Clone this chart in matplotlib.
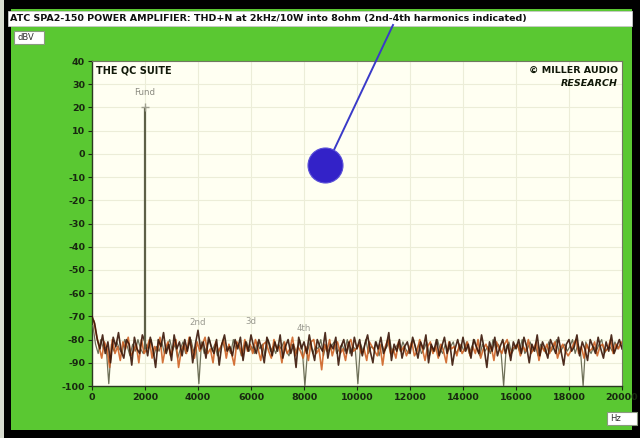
import numpy as np
import matplotlib
matplotlib.use("Agg")
import matplotlib.pyplot as plt
from matplotlib.patches import Rectangle, Ellipse
from matplotlib.lines import Line2D

# ---- data -------------------------------------------------------------
title = "ATC SPA2-150 POWER AMPLIFIER: THD+N at 2kHz/10W into 8ohm (2nd-4th harmonics indicated)"
x_ticks = [0, 2000, 4000, 6000, 8000, 10000, 12000, 14000, 16000, 18000, 20000]
y_ticks = [40, 30, 20, 10, 0, -10, -20, -30, -40, -50, -60, -70, -80, -90, -100]

fund_freq = 2000
fund_level = 20
harmonic_freqs = [4000, 6000, 8000]
harmonic_labels = ["2nd", "3d", "4th"]
harmonic_label_levels = [-74.5, -74.0, -77.0]

# noise floor traces, 100 Hz bins from 0 to 20 kHz (three captures,
# each on its own bin grid)
trace_dark = [
    -70, -73, -80, -84, -78, -86, -81, -90, -79, -83, -77, -85, -88, -80, -82, -91, -79, -84, -86, -78,
    -81, -87, -79, -84, -92, -80, -83, -77, -86, -82, -89, -78, -84, -81, -87, -80, -85, -79, -90, -82,
    -76, -84, -81, -88, -79, -83, -86, -80, -91, -82, -78, -85, -83, -87, -80, -84, -79, -89, -81, -85,
    -78, -83, -86, -80, -84, -90, -79, -82, -87, -81, -85, -78, -88, -83, -80, -86, -82, -92, -79, -84,
    -81, -86, -78, -84, -89, -80, -83, -85, -77, -88, -82, -84, -79, -91, -83, -80, -86, -81, -87, -79,
    -84, -80, -87, -82, -78, -85, -90, -81, -84, -79, -86, -83, -77, -89, -82, -85, -80, -88, -83, -81,
    -86, -79, -83, -88, -81, -84, -78, -90, -82, -85, -80, -87, -83, -79, -86, -81, -91, -84, -80, -85,
    -79, -85, -82, -88, -80, -83, -86, -78, -84, -92, -81, -85, -79, -87, -83, -80, -86, -82, -89, -81,
    -84, -80, -86, -79, -83, -90, -82, -85, -78, -87, -81, -84, -88, -80, -83, -86, -79, -85, -91, -82,
    -80, -85, -83, -78, -87, -81, -84, -89, -80, -83, -86, -79, -84, -88, -81, -85, -78, -86, -83, -80,
    -84,
]
trace_orange = [
    -72, -78, -83, -88, -81, -84, -92, -80, -86, -83, -89, -81, -84, -79, -87, -85, -82, -90, -80, -86,
    -84, -80, -88, -83, -85, -79, -90, -84, -81, -87, -83, -80, -92, -85, -82, -86, -79, -84, -88, -81,
    -85, -82, -79, -86, -84, -90, -81, -85, -83, -80, -88, -82, -86, -91, -81, -83, -87, -80, -85, -82,
    -86, -80, -84, -89, -82, -81, -85, -88, -80, -84, -83, -90, -81, -86, -84, -79, -87, -83, -85, -88,
    -83, -89, -81, -80, -86, -84, -93, -82, -85, -80, -87, -83, -81, -86, -84, -89, -82, -80, -85, -84,
    -82, -86, -84, -89, -81, -83, -85, -87, -82, -91, -83, -80, -86, -84, -88, -81, -85, -83, -87, -84,
    -81, -87, -85, -80, -84, -89, -83, -81, -86, -83, -88, -82, -85, -90, -81, -84, -83, -87, -82, -86,
    -84, -81, -87, -83, -86, -80, -88, -84, -82, -85, -83, -89, -81, -84, -86, -82, -80, -87, -84, -83,
    -82, -87, -83, -85, -80, -86, -84, -81, -89, -83, -85, -82, -86, -83, -81, -88, -84, -82, -85, -87,
    -85, -82, -80, -86, -83, -88, -82, -85, -84, -81, -87, -83, -82, -85, -84, -80, -86, -82, -84, -81,
    -83,
]
trace_grey = [
    -74, -82, -86, -80, -84, -83, -99, -82, -85, -81, -84, -86, -80, -83, -87, -82, -85, -80, -84, -86,
    -82, -84, -80, -87, -83, -85, -81, -86, -83, -80, -85, -82, -88, -84, -81, -86, -83, -80, -85, -83,
    -99, -81, -86, -83, -80, -85, -82, -87, -84, -81, -85, -83, -86, -80, -84, -82, -87, -83, -81, -85,
    -83, -86, -81, -84, -82, -87, -80, -85, -83, -86, -82, -84, -81, -85, -87, -82, -83, -86, -80, -84,
    -100, -85, -81, -86, -83, -84, -80, -87, -82, -85, -83, -81, -86, -84, -82, -85, -80, -86, -83, -84,
    -99, -82, -85, -80, -86, -83, -84, -81, -87, -82, -85, -83, -80, -86, -84, -82, -85, -81, -84, -86,
    -83, -80, -85, -82, -86, -84, -81, -87, -83, -85, -80, -84, -86, -82, -85, -83, -81, -86, -84, -82,
    -85, -81, -86, -83, -80, -84, -87, -82, -85, -83, -86, -80, -84, -82, -85, -100, -83, -81, -86, -84,
    -82, -85, -80, -86, -84, -81, -85, -83, -87, -82, -84, -86, -81, -85, -83, -80, -86, -84, -82, -85,
    -83, -80, -86, -82, -85, -100, -81, -84, -86, -83, -85, -82, -80, -86, -84, -83, -85, -81, -84, -82,
    -84,
]
bin_hz = 100
freqs = np.arange(len(trace_dark)) * bin_hz

# ---- styling ----------------------------------------------------------
GREEN = "#5ac832"
PANEL = "#fffff2"
INK = "#182810"
W, H = 640, 438


def fx(px):
    return px / W


def fy(py):
    return 1 - py / H


fig = plt.figure(figsize=(W / 100, H / 100), dpi=100)
fig.patch.set_facecolor("black")

# green panel and title strip
fig.add_artist(Rectangle((fx(11), fy(430)), fx(632 - 11), (430 - 9) / H,
                         transform=fig.transFigure, facecolor=GREEN,
                         edgecolor="none", zorder=0))
fig.add_artist(Rectangle((0, 0), fx(4), 1, transform=fig.transFigure,
                         facecolor="#d8dcd0", edgecolor="none", zorder=0))
fig.add_artist(Rectangle((fx(8), fy(26)), fx(632 - 8), 15 / H,
                         transform=fig.transFigure, facecolor="white",
                         edgecolor="#c8c8c8", lw=0.6, zorder=1))
fig.text(fx(10), fy(18.5), title, fontsize=6.8, fontweight="bold",
         color="#101010", ha="left", va="center", zorder=2)

# unit boxes
fig.add_artist(Rectangle((fx(14), fy(44)), fx(30), 13 / H,
                         transform=fig.transFigure, facecolor="white",
                         edgecolor="#8a9a80", lw=0.8, zorder=1))
fig.text(fx(17), fy(37.5), "dBV", fontsize=6, color="#303030",
         ha="left", va="center", zorder=2)
fig.add_artist(Rectangle((fx(607), fy(425)), fx(30), 13 / H,
                         transform=fig.transFigure, facecolor="white",
                         edgecolor="#8a9a80", lw=0.8, zorder=1))
fig.text(fx(610), fy(418.5), "Hz", fontsize=6, color="#303030",
         ha="left", va="center", zorder=2)

# main plot
ax = fig.add_axes([fx(92), fy(386), fx(622 - 92), (386 - 61) / H])
ax.set_facecolor(PANEL)
ax.set_xlim(0, 20000)
ax.set_ylim(-100, 40)
ax.set_xticks(x_ticks)
ax.set_yticks(y_ticks)
ax.set_xticklabels([str(v) for v in x_ticks])
ax.set_yticklabels([str(v) for v in y_ticks])
ax.grid(True, color="#ecedd8", lw=0.8)
ax.set_axisbelow(True)
ax.tick_params(axis="both", direction="out", length=3, width=0.8,
               color=INK, labelcolor=INK, labelsize=6.8, pad=2)
for lbl in ax.get_xticklabels() + ax.get_yticklabels():
    lbl.set_fontweight("bold")
for side in ("left", "bottom"):
    ax.spines[side].set_color("#2a3a20")
    ax.spines[side].set_linewidth(1.0)
for side in ("top", "right"):
    ax.spines[side].set_color("#707860")
    ax.spines[side].set_linewidth(0.8)

# harmonic markers (drawn beneath the noise)
for f, lab, lev in zip(harmonic_freqs, harmonic_labels, harmonic_label_levels):
    ax.text(f, lev, lab, fontsize=6.2, color="#9a9a90", ha="center",
            va="bottom", zorder=2)

# noise floor: three captures on interleaved bin grids
ax.plot(freqs + bin_hz / 3, trace_grey, color="#6e7058", lw=0.9, zorder=3,
        clip_on=True)
ax.plot(freqs + 2 * bin_hz / 3, trace_orange, color="#cc5a1a", lw=1.2,
        alpha=0.85, zorder=4)
ax.plot(freqs, trace_dark, color="#3a1608", lw=1.2, alpha=0.9, zorder=5)

# fundamental
ax.vlines(fund_freq, -84, fund_level, color="#5e6048", lw=1.6, zorder=6)
ax.plot([fund_freq], [fund_level], marker="+", ms=6, mew=1.0,
        color="#a0a090", zorder=7)
ax.text(fund_freq, fund_level + 4.5, "Fund", fontsize=6.2, color="#8a8a80",
        ha="center", va="bottom", zorder=7)

# branding
ax.text(0.008, 0.985, "THE QC SUITE", transform=ax.transAxes, fontsize=7,
        fontweight="bold", color="#101808", ha="left", va="top")
ax.text(0.992, 0.985, "\u00a9 MILLER AUDIO", transform=ax.transAxes,
        fontsize=6.8, fontweight="bold", color="#101808", ha="right", va="top")
ax.text(0.992, 0.945, "RESEARCH", transform=ax.transAxes, fontsize=6.8,
        fontweight="bold", fontstyle="italic", color="#101808",
        ha="right", va="top")

# blue pin
fig.add_artist(Line2D([fx(393), fx(333)], [fy(25), fy(152)],
                      transform=fig.transFigure, color="#3a3ac8", lw=1.4,
                      zorder=8))
fig.add_artist(Ellipse((fx(325.5), fy(165.5)), fx(35), 35 / H,
                       transform=fig.transFigure, facecolor="#3322c8",
                       edgecolor="#5a50d8", lw=0.8, zorder=9))

fig.savefig("out.png", dpi=100, facecolor=fig.get_facecolor())
